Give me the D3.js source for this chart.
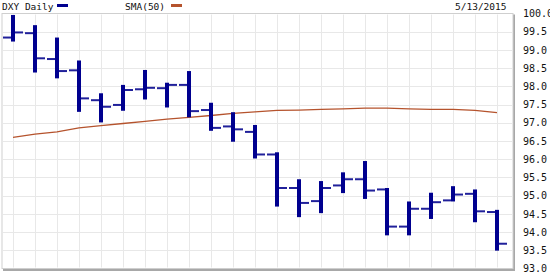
<!DOCTYPE html>
<html>
<head>
<meta charset="utf-8">
<script src="https://cdn.jsdelivr.net/npm/d3@7"></script>
<style>
body { margin: 0; background: #fff; }
svg { display: block; }
text { font-family: "DejaVu Sans Mono", monospace; fill: #111; }
</style>
</head>
<body>
<svg id="chart" width="550" height="277"></svg>
<script>
// DXY daily bars, 4/13/2015 - 5/13/2015
var dates = ['4/13', '4/14', '4/15', '4/16', '4/17', '4/20', '4/21', '4/22', '4/23', '4/24', '4/27', '4/28',
    '4/29', '4/30', '5/1', '5/4', '5/5', '5/6', '5/7', '5/8', '5/11', '5/12', '5/13'];
var opens = [99.34, 99.46, 98.75, 98.44, 97.62, 97.49, 97.92, 97.95, 98.04, 97.35, 96.90, 96.75,
    96.13, 95.21, 94.85, 95.28, 95.45, 95.17, 94.15, 94.64, 94.87, 95.05, 94.55];
var highs = [99.96, 99.68, 99.34, 98.71, 97.81, 98.04, 98.45, 98.10, 98.42, 97.55, 97.29, 96.94,
    96.19, 95.45, 95.40, 95.64, 95.95, 95.21, 94.84, 95.08, 95.26, 95.17, 94.61];
var lows = [99.23, 98.38, 98.22, 97.30, 97.01, 97.33, 97.64, 97.42, 97.15, 96.78, 96.48, 96.02,
    94.70, 94.41, 94.52, 95.07, 94.91, 93.91, 93.91, 94.36, 94.84, 94.27, 93.49];
var closes = [99.48, 98.77, 98.42, 97.67, 97.44, 97.90, 97.96, 98.04, 97.32, 96.86, 96.82, 96.13,
    95.21, 94.80, 95.21, 95.45, 95.14, 94.15, 94.64, 94.82, 95.03, 94.57, 93.68];
var sma50 = [96.60, 96.69, 96.75, 96.86, 96.92, 96.98, 97.04, 97.10, 97.15, 97.20, 97.26, 97.30,
    97.34, 97.35, 97.37, 97.38, 97.40, 97.40, 97.38, 97.37, 97.37, 97.34, 97.28];
var yTicks = [93.0, 93.5, 94.0, 94.5, 95.0, 95.5, 96.0, 96.5, 97.0, 97.5, 98.0, 98.5, 99.0, 99.5, 100.0];

function drawChart() {
    var svg = d3.select('#chart');
    var barCol = '#00008f';
    var smaCol = '#b5532d';
    var gridCol = '#e8e8e8';

    var plotL = 2, plotR = 513, plotT = 13.5, plotB = 268.5;

    var x = d3.scalePoint().domain(dates).range([13, 497]);
    var y = d3.scaleLinear().domain([93, 100]).range([plotB, plotT]);

    // plot frame with shadow
    svg.append('rect')
        .attr('x', plotL + 1).attr('y', plotT + 1)
        .attr('width', plotR - plotL + 1).attr('height', plotB - plotT + 1.5)
        .attr('fill', '#a8a8a8');
    svg.append('rect')
        .attr('x', plotL).attr('y', plotT)
        .attr('width', plotR - plotL).attr('height', plotB - plotT)
        .attr('fill', '#fff')
        .attr('stroke', '#cfcfcf')
        .attr('stroke-width', 1);

    // grid
    svg.append('g').selectAll('line')
        .data(yTicks.slice(1, -1))
        .join('line')
        .attr('x1', plotL + 1).attr('x2', plotR - 1)
        .attr('y1', function(d) { return Math.round(y(d)) + 0.5; })
        .attr('y2', function(d) { return Math.round(y(d)) + 0.5; })
        .attr('stroke', gridCol);
    svg.append('g').selectAll('line')
        .data(dates)
        .join('line')
        .attr('x1', function(d) { return Math.round(x(d)) + 0.5; })
        .attr('x2', function(d) { return Math.round(x(d)) + 0.5; })
        .attr('y1', plotT + 1).attr('y2', plotB - 1)
        .attr('stroke', gridCol);

    // y axis labels
    var yAxis = d3.axisRight(y).tickValues(yTicks).tickSize(0).tickPadding(0)
        .tickFormat(d3.format('.1f'));
    var ga = svg.append('g').attr('transform', 'translate(523,0)').call(yAxis);
    ga.select('.domain').remove();
    ga.selectAll('text')
        .attr('font-family', '"DejaVu Sans Mono", monospace')
        .attr('font-size', 10)
        .attr('fill', '#111');

    // SMA line
    svg.append('path')
        .datum(sma50)
        .attr('fill', 'none')
        .attr('stroke', smaCol)
        .attr('stroke-width', 1.3)
        .attr('d', d3.line()
            .x(function(d, i) { return x(dates[i]); })
            .y(function(d) { return y(d); }));

    // OHLC bars
    var bars = svg.append('g').selectAll('g')
        .data(dates)
        .join('g');
    bars.append('rect')
        .attr('x', function(d) { return x(d) - 2; })
        .attr('width', 4)
        .attr('y', function(d, i) { return y(highs[i]); })
        .attr('height', function(d, i) { return y(lows[i]) - y(highs[i]); })
        .attr('fill', barCol);
    bars.append('line')
        .attr('x1', function(d) { return x(d) - 10; })
        .attr('x2', function(d) { return x(d) - 2; })
        .attr('y1', function(d, i) { return y(opens[i]); })
        .attr('y2', function(d, i) { return y(opens[i]); })
        .attr('stroke', '#20209a').attr('stroke-width', 2);
    bars.append('line')
        .attr('x1', function(d) { return x(d) + 2; })
        .attr('x2', function(d) { return x(d) + 10; })
        .attr('y1', function(d, i) { return y(closes[i]); })
        .attr('y2', function(d, i) { return y(closes[i]); })
        .attr('stroke', '#20209a').attr('stroke-width', 2);

    // header
    svg.append('text').text('DXY Daily')
        .attr('x', 2).attr('y', 9.5).attr('font-size', 9.5);
    svg.append('rect').attr('x', 57).attr('y', 4).attr('width', 11).attr('height', 3).attr('fill', barCol);
    svg.append('text').text('SMA(50)')
        .attr('x', 125).attr('y', 9.5).attr('font-size', 9.5);
    svg.append('rect').attr('x', 171).attr('y', 4).attr('width', 11).attr('height', 3).attr('fill', smaCol);
    svg.append('text').text('5/13/2015')
        .attr('x', 455).attr('y', 9.5).attr('font-size', 9.5);
}

drawChart();
</script>
</body>
</html>
